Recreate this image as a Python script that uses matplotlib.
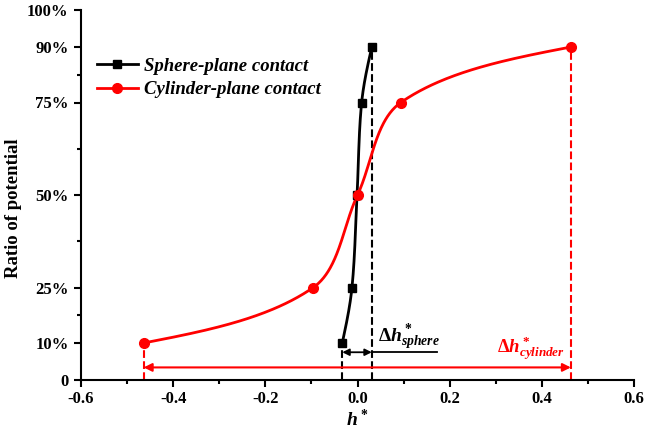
import numpy as np
import matplotlib
matplotlib.use("Agg")
import matplotlib.pyplot as plt

plt.rcParams['font.family'] = ['Liberation Serif', 'DejaVu Serif']
plt.rcParams['font.weight'] = 'bold'
plt.rcParams['mathtext.fontset'] = 'custom'
plt.rcParams['mathtext.rm'] = 'Liberation Serif:bold'
plt.rcParams['mathtext.it'] = 'Liberation Serif:bold:italic'
plt.rcParams['mathtext.bf'] = 'Liberation Serif:bold'

# Data
ratio = [10, 25, 50, 75, 90]
sphere_h = [-0.033, -0.012, -0.001, 0.009, 0.031]
cylinder_h = [-0.464, -0.096, 0.000, 0.094, 0.463]
yticks = [0, 10, 25, 50, 75, 90, 100]
yticklabels = ['0', '10%', '25%', '50%', '75%', '90%', '100%']
yminor = [17.5, 37.5, 62.5, 82.5]
xticks = [-0.6, -0.4, -0.2, 0.0, 0.2, 0.4, 0.6]
xticklabels = ['-0.6', '-0.4', '-0.2', '0.0', '0.2', '0.4', '0.6']


def smooth_curve(x, y, sx, sy, n=100):
    """Parametric cubic Hermite (chord-length Catmull-Rom) through the points."""
    P = np.column_stack([np.asarray(x, float) * sx, np.asarray(y, float) * sy])
    seg = np.hypot(*np.diff(P, axis=0).T)
    k = len(P)
    M = np.zeros_like(P)
    for i in range(1, k - 1):
        M[i] = (P[i + 1] - P[i - 1]) / (seg[i - 1] + seg[i])
    c0 = (P[1] - P[0]) / seg[0]
    c1 = (P[-1] - P[-2]) / seg[-1]
    M[0] = 1.5 * c0 - 0.5 * M[1]
    M[-1] = 1.5 * c1 - 0.5 * M[-2]
    out = []
    s = np.linspace(0, 1, n)[:, None]
    h00 = 2 * s**3 - 3 * s**2 + 1
    h10 = s**3 - 2 * s**2 + s
    h01 = -2 * s**3 + 3 * s**2
    h11 = s**3 - s**2
    for i in range(k - 1):
        h = seg[i]
        out.append(h00 * P[i] + h10 * h * M[i] + h01 * P[i + 1] + h11 * h * M[i + 1])
    C = np.vstack(out)
    return C[:, 0] / sx, C[:, 1] / sy


fig = plt.figure(figsize=(6.59, 4.30), dpi=100)
ax = fig.add_axes([81 / 659, 1 - 380 / 430, (634 - 81) / 659, 370 / 430])

SX, SY = 460.8, 3.7
xs, ys = smooth_curve(sphere_h, ratio, SX, SY)
ax.plot(xs, ys, color='black', lw=2, zorder=3)
xs2, ys2 = smooth_curve(cylinder_h, ratio, SX, SY)
ax.plot(xs2, ys2, color='red', lw=2, zorder=3)

ax.plot(sphere_h, ratio, 's', color='black', ms=6, zorder=4)
ax.plot(cylinder_h, ratio, 'o', color='red', ms=7, zorder=5)

# legend proxies
ax.plot([], [], '-s', color='black', lw=2, ms=6, label='Sphere-plane contact')
ax.plot([], [], '-o', color='red', lw=2, ms=7, label='Cylinder-plane contact')
ax.legend(loc='upper left', bbox_to_anchor=(0.015, 0.892), frameon=False,
          prop={'family': 'Liberation Serif', 'weight': 'bold', 'style': 'italic', 'size': 13.5},
          handlelength=2.2, handletextpad=0.3, labelspacing=0.35, borderaxespad=0)

# dashed verticals
ax.plot([sphere_h[-1], sphere_h[-1]], [0, ratio[-1]], ls='--', color='black', lw=1.5, zorder=2)
ax.plot([sphere_h[0], sphere_h[0]], [0, ratio[0]], ls='--', color='black', lw=1.5, zorder=2)
ax.plot([cylinder_h[-1], cylinder_h[-1]], [0, ratio[-1]], ls='--', color='red', lw=1.5, zorder=2)
ax.plot([cylinder_h[0], cylinder_h[0]], [0, ratio[0]], ls='--', color='red', lw=1.5, zorder=2)

# arrows
ax.annotate('', xy=(cylinder_h[0], 3.4), xytext=(cylinder_h[-1], 3.4),
            arrowprops=dict(arrowstyle='<|-|>', color='red', lw=1.5,
                            shrinkA=0, shrinkB=0, mutation_scale=12))
ax.annotate('', xy=(sphere_h[0], 7.5), xytext=(sphere_h[-1], 7.5),
            arrowprops=dict(arrowstyle='<|-|>', color='black', lw=1.3,
                            shrinkA=0, shrinkB=0, mutation_scale=10))
ax.plot([sphere_h[-1], 0.173], [7.5, 7.5], color='black', lw=1.3)

ax.text(0.044, 10.5, r'$\Delta h^*_{sphere}$', fontsize=14, color='black',
        ha='left', va='baseline')
ax.text(0.302, 7.3, r'$\Delta h^*_{cylinder}$', fontsize=13.5, color='red',
        ha='left', va='baseline')

ax.set_xlim(-0.6, 0.6)
ax.set_ylim(0, 100)
ax.set_xticks(xticks)
ax.set_xticklabels(xticklabels)
ax.set_xticks([-0.5, -0.3, -0.1, 0.1, 0.3, 0.5], minor=True)
ax.set_yticks(yticks)
ax.set_yticklabels(yticklabels)
ax.set_yticks(yminor, minor=True)
for lab in ax.get_xticklabels() + ax.get_yticklabels():
    lab.set_fontweight('bold')
    lab.set_fontsize(12)
ax.tick_params(which='major', length=5, width=1.5, direction='out', pad=4)
ax.tick_params(axis='x', which='major', pad=3)
ax.tick_params(which='minor', length=3, width=1.5, direction='out')
ax.spines['top'].set_visible(False)
ax.spines['right'].set_visible(False)
ax.spines['left'].set_linewidth(1.5)
ax.spines['bottom'].set_linewidth(1.5)

ax.set_ylabel('Ratio of potential', fontsize=13.5, fontweight='bold')
ax.yaxis.set_label_coords(-0.107, 0.465)
ax.set_xlabel(r'$h^*$', fontsize=14)
ax.xaxis.set_label_coords(0.5, -0.077)

fig.savefig('out.png', dpi=100)
